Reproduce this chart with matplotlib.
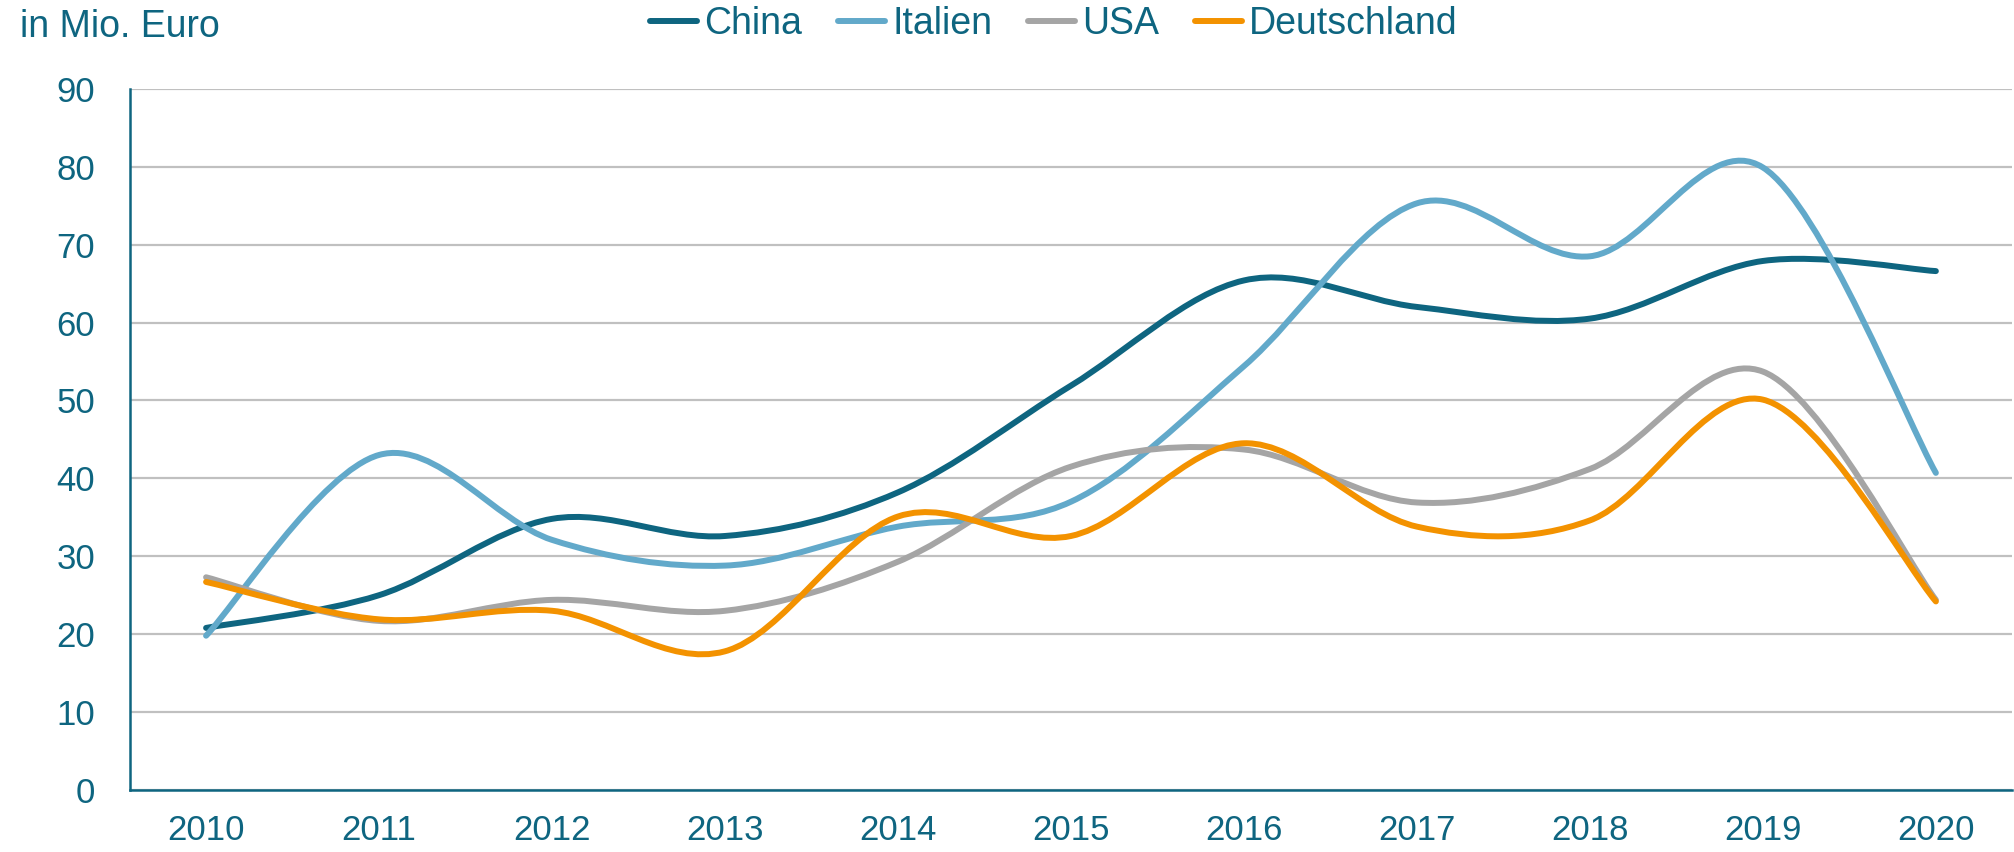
import matplotlib
matplotlib.use("Agg")
import matplotlib.pyplot as plt
from matplotlib.path import Path
from matplotlib.patches import PathPatch
from matplotlib.lines import Line2D
from matplotlib import rcParams

rcParams["font.family"] = ["Liberation Sans", "DejaVu Sans"]

### data ###
years = [2010, 2011, 2012, 2013, 2014, 2015, 2016, 2017, 2018, 2019, 2020]
china = [20.8, 25.0, 34.8, 32.6, 38.2, 51.9, 65.4, 62.0, 60.5, 67.9, 66.6]
italien = [19.8, 43.0, 32.1, 28.8, 33.8, 37.0, 54.4, 75.3, 68.5, 79.9, 40.7]
usa = [27.3, 21.7, 24.4, 23.0, 29.3, 41.5, 43.7, 36.9, 41.2, 53.7, 24.4]
deutschland = [26.7, 21.9, 23.0, 17.8, 35.1, 32.6, 44.5, 33.8, 34.6, 50.1, 24.2]

series = [
    ("China", china, "#0e6580"),
    ("Italien", italien, "#62a9ca"),
    ("USA", usa, "#a5a5a5"),
    ("Deutschland", deutschland, "#f39200"),
]
txt_col = "#0e6580"


def smooth_path(xs, ys):
    # excel-like smoothed line (catmull-rom as cubic bezier)
    pts = list(zip(xs, ys))
    n = len(pts)
    verts = [pts[0]]
    codes = [Path.MOVETO]
    for i in range(n - 1):
        p0 = pts[max(i - 1, 0)]
        p1 = pts[i]
        p2 = pts[i + 1]
        p3 = pts[min(i + 2, n - 1)]
        c1 = (p1[0] + (p2[0] - p0[0]) / 6, p1[1] + (p2[1] - p0[1]) / 6)
        c2 = (p2[0] - (p3[0] - p1[0]) / 6, p2[1] - (p3[1] - p1[1]) / 6)
        verts += [c1, c2, p2]
        codes += [Path.CURVE4] * 3
    return Path(verts, codes)


fig = plt.figure(figsize=(20.15, 8.52), dpi=100)
ax = fig.add_axes([0.0645, 0.0728, 0.934, 0.823])

for name, vals, col in series:
    patch = PathPatch(smooth_path(years, vals), facecolor="none", edgecolor=col,
                      lw=4.3, capstyle="round", joinstyle="round", zorder=3)
    ax.add_patch(patch)

ax.set_xlim(2009.56, 2020.44)
ax.set_ylim(0, 90)
ax.set_yticks(range(0, 91, 10))
ax.set_xticks(years)
ax.grid(axis="y", color="#c0c0c0", lw=1.6)
ax.set_axisbelow(True)
for s in ["top", "right"]:
    ax.spines[s].set_visible(False)
for s in ["left", "bottom"]:
    ax.spines[s].set_color(txt_col)
    ax.spines[s].set_linewidth(1.8)
ax.tick_params(length=0, labelsize=25, labelcolor=txt_col)
ax.tick_params(axis="y", pad=25)
ax.tick_params(axis="x", pad=17)

fig.text(0.01, 0.956, "in Mio. Euro", fontsize=27, color=txt_col, va="baseline", ha="left")

handles = [Line2D([], [], color=c, lw=4.3, solid_capstyle="round") for _, _, c in series]
leg = fig.legend(handles, [n for n, _, _ in series], loc="center", bbox_to_anchor=(0.523, 0.972),
                 ncol=4, frameon=False, fontsize=27, handlelength=1.25, handletextpad=0.2,
                 columnspacing=0.95, borderpad=0, borderaxespad=0)
for t in leg.get_texts():
    t.set_color(txt_col)

fig.savefig("out.png", dpi=100)
